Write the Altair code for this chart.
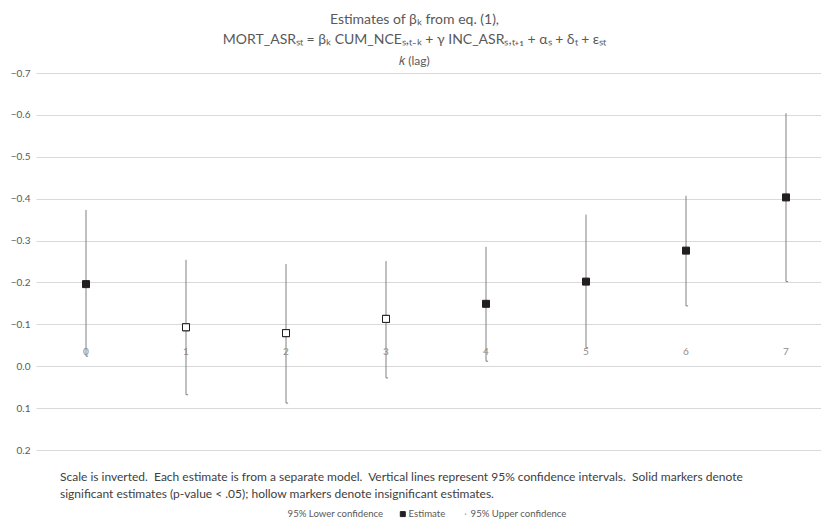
import altair as alt
import pandas as pd

# ---- data ----
lags = [0, 1, 2, 3, 4, 5, 6, 7]
estimate = [-0.196, -0.093, -0.079, -0.113, -0.149, -0.202, -0.276, -0.403]
lower_ci = [-0.373, -0.254, -0.244, -0.251, -0.285, -0.362, -0.407, -0.604]
upper_ci = [-0.024, 0.068, 0.088, 0.028, -0.012, -0.044, -0.144, -0.202]
significant = [True, False, False, False, True, True, True, True]
series_names = ["95% Lower confidence", "Estimate", "95% Upper confidence"]
y_ticks = [-0.7, -0.6, -0.5, -0.4, -0.3, -0.2, -0.1, 0.0, 0.1, 0.2]
title_lines = [
    "Estimates of \u03b2\u2096 from eq. (1),",
    "MORT_ASR\u209b\u209c = \u03b2\u2096 CUM_NCE\u209b,\u209c\u208b\u2096 + \u03b3 INC_ASR\u209b,\u209c\u208a\u2081 + \u03b1\u209b + \u03b4\u209c + \u03b5\u209b\u209c",
]
subtitle_text = "\U0001D458 (lag)"
note_text = ("Scale is inverted.\u00a0 Each estimate is from a separate model.\u00a0 Vertical lines represent 95% confidence intervals.\u00a0 Solid markers denote\n"
             "significant estimates (p-value < .05); hollow markers denote insignificant estimates.")

FONT = "Lato"

wide = pd.DataFrame({"k": lags, "est": estimate, "lo": lower_ci, "hi": upper_ci,
                     "sig": significant, "lab": [str(v) for v in lags]})
long = pd.concat([
    pd.DataFrame({"k": lags, "value": lower_ci, "series": series_names[0]}),
    pd.DataFrame({"k": lags, "value": estimate, "series": series_names[1]}),
    pd.DataFrame({"k": lags, "value": upper_ci, "series": series_names[2]}),
])

W, H = 785, 377
xs = alt.Scale(domain=[-0.5, 7.35], nice=False, zero=False)
ys = alt.Scale(domain=[-0.7, 0.2], reverse=True, nice=False, zero=False)

X = alt.X("k:Q", scale=xs, axis=None)
Y_axis = alt.Axis(values=y_ticks, format=".1f", title=None, ticks=False, domain=False,
                  labelFontSize=10, labelColor="#595959", labelFont=FONT, labelPadding=6,
                  grid=True, gridColor="#d9d9d9", gridWidth=1)

rules = alt.Chart(wide).mark_rule(color="#808080", strokeWidth=1).encode(
    x=X, y=alt.Y("lo:Q", scale=ys, axis=Y_axis), y2="hi:Q")

leg = alt.Legend(orient="none", legendX=241, legendY=436, direction="horizontal", title=None,
                 labelFontSize=9.6, labelFont=FONT, labelColor="#595959", symbolSize=25,
                 labelOffset=1, columnPadding=14, symbolStrokeWidth=1)
dom = series_names
points = alt.Chart(long).mark_point(opacity=1, strokeWidth=1, size=49).encode(
    x=X, y=alt.Y("value:Q", scale=ys),
    shape=alt.Shape("series:N", sort=dom, scale=alt.Scale(domain=dom, range=["square", "square", "M0,0L0.6,0"]), legend=leg),
    fill=alt.Fill("series:N", sort=dom, scale=alt.Scale(domain=dom, range=["transparent", "#231f20", "transparent"]), legend=leg),
    stroke=alt.Stroke("series:N", sort=dom, scale=alt.Scale(domain=dom, range=["transparent", "#231f20", "#7f7f7f"]), legend=leg),
)

hollow = alt.Chart(wide).transform_filter("!datum.sig").mark_point(
    shape="square", size=49, filled=False, fill="white", stroke="#231f20", strokeWidth=1, opacity=1
).encode(x=X, y=alt.Y("est:Q", scale=ys))

cats = alt.Chart(wide).mark_text(fontSize=10, font=FONT, color="#8c8c8c", dy=-14).encode(
    x=X, y=alt.Y("zero:Q", scale=ys), text="lab:N").transform_calculate(zero="0")

notes = alt.Chart(pd.DataFrame({"t": [note_text]})).mark_text(
    align="left", baseline="middle", fontSize=12, font=FONT, color="#404040",
    lineBreak="\n", lineHeight=17).encode(x=alt.value(24), y=alt.value(404), text="t:N")

chart = alt.layer(rules, points, hollow, cats, notes).properties(
    width=W, height=H,
    padding={"left": 2, "top": 5, "right": 0, "bottom": 0},
    title=alt.TitleParams(text=title_lines, subtitle=subtitle_text, anchor="middle", dx=-14,
                          font=FONT, fontSize=14, fontWeight="normal", color="#595959", lineHeight=20,
                          subtitleFont=FONT, subtitleFontSize=12, subtitleColor="#595959",
                          subtitlePadding=9, offset=1),
).configure_view(stroke=None)

chart.save("out.html", embed_options={"renderer": "svg", "actions": False})
